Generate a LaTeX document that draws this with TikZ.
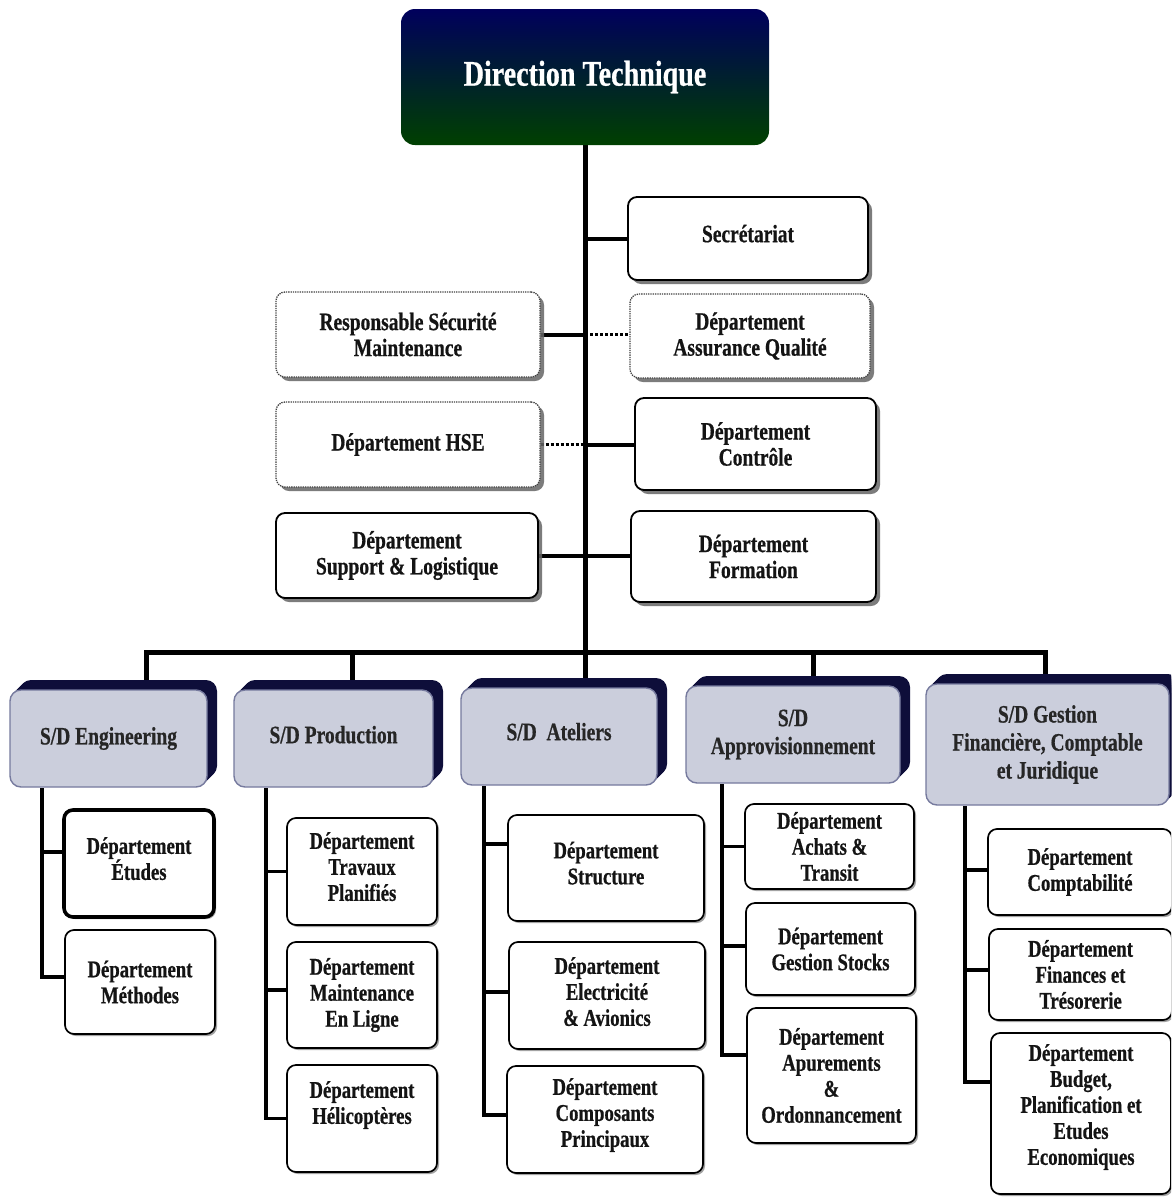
\documentclass[tikz,border=0pt]{standalone}
\usepackage{fontspec}
\newfontfamily\orgfont{Liberation Serif}[FakeStretch=0.78, BoldFeatures={FakeBold=0.6}]
\usetikzlibrary{shadows,backgrounds}

\definecolor{dtnavy}{RGB}{0,0,92}
\definecolor{dtgreen}{RGB}{0,64,0}
\definecolor{sdnavy}{RGB}{14,14,58}
\definecolor{sdface}{RGB}{203,206,220}
\definecolor{sdedge}{RGB}{118,122,158}
\definecolor{ink}{RGB}{20,20,20}

\tikzset{
  boxbase/.style={draw=black, fill=white, rounded corners=9pt, align=center,
    inner sep=2pt, text=ink},
  upfont/.style={font=\orgfont\bfseries\fontsize{25}{26}\selectfont},
  lowfont/.style={font=\orgfont\bfseries\fontsize{24}{26}\selectfont},
  upbox/.style={boxbase, upfont, line width=1.8pt,
    drop shadow={shadow xshift=4pt, shadow yshift=-4pt, fill=black!60, opacity=0.85}},
  dotbox/.style={upbox, draw=black!75, line width=1.3pt, densely dotted},
  lowbox/.style={boxbase, lowfont, line width=1.7pt,
    drop shadow={shadow xshift=2pt, shadow yshift=-2pt, fill=black!45, opacity=0.8}},
  extrude/.style={general shadow={fill=sdnavy, shadow xshift=#1pt, shadow yshift=#1pt}},
  sdbox/.style={extrude/.list={1,...,10}, draw=sdedge, line width=1.4pt, fill=sdface,
    rounded corners=11pt, align=center, text=black!85,
    font=\orgfont\bfseries\fontsize{25}{28}\selectfont},
  lift/.style={text depth=#1},
  trunk/.style={line width=5pt},
  link/.style={line width=4pt},
  dotlink/.style={line width=3pt, dotted},
  subline/.style={line width=3.2pt},
}

\begin{document}
\begin{tikzpicture}[x=1pt, y=-1pt]
\useasboundingbox (0,0) rectangle (1171,1197);
\begin{scope}[on background layer]
  \fill[white] (0,0) rectangle (1171,1197);
\end{scope}
\clip (0,0) rectangle (1171,1197);

% head of the organisation
\node[rounded corners=14pt, top color=dtnavy, bottom color=dtgreen,
  minimum width=368pt, minimum height=136pt, text=white,
  font=\orgfont\bfseries\fontsize{36}{40}\selectfont] (dt) at (585,77) {Direction Technique};

% staff units attached to the trunk
\node[upbox, minimum width=240pt, minimum height=83pt, lift=10pt] (sec) at (748,238.5) {Secrétariat};
\node[dotbox, minimum width=264pt, minimum height=85pt] (resp) at (408,334.5) {Responsable Sécurité\\Maintenance};
\node[dotbox, minimum width=240pt, minimum height=84pt] (aq) at (750,336) {Département\\Assurance Qualité};
\node[dotbox, minimum width=264pt, minimum height=85pt] (hse) at (408,444.5) {Département HSE};
\node[upbox, minimum width=241pt, minimum height=92pt] (ctrl) at (755.5,444) {Département\\Contrôle};
\node[upbox, minimum width=262pt, minimum height=85pt] (sup) at (407,555.5) {Département\\Support \& Logistique};
\node[upbox, minimum width=245pt, minimum height=91pt] (form) at (753.5,556.5) {Département\\Formation};

% sub-directorates
\node[sdbox, minimum width=197pt, minimum height=97pt] (eng) at (108.5,738.5) {S/D Engineering};
\node[sdbox, minimum width=199pt, minimum height=97pt, lift=8pt] (prod) at (333.5,738.5) {S/D Production};
\node[sdbox, minimum width=196pt, minimum height=97pt, lift=10pt] (ate) at (559,736.5) {S/D\ \ Ateliers};
\node[sdbox, minimum width=214pt, minimum height=97pt] (app) at (793,734.5) {S/D\\Approvisionnement};
\node[sdbox, minimum width=243pt, minimum height=121pt] (ges) at (1047.5,744.5) {S/D Gestion\\Financière, Comptable\\et Juridique};

% departments
\node[lowbox, line width=3.6pt, minimum width=150pt, minimum height=107pt, lift=10pt] (etu) at (139,863.5) {Département\\Études};
\node[lowbox, minimum width=150pt, minimum height=104pt] (meth) at (140,982) {Département\\Méthodes};
\node[lowbox, minimum width=150pt, minimum height=107pt, lift=10pt] (trav) at (362,871.5) {Département\\Travaux\\Planifiés};
\node[lowbox, minimum width=150pt, minimum height=106pt] (mlig) at (362,995) {Département\\Maintenance\\En Ligne};
\node[lowbox, minimum width=150pt, minimum height=107pt, lift=32pt] (heli) at (362,1118.5) {Département\\Hélicoptères};
\node[lowbox, minimum width=196pt, minimum height=106pt, lift=10pt] (stru) at (606,868) {Département\\Structure};
\node[lowbox, minimum width=196pt, minimum height=107pt, lift=8pt] (elec) at (607,995.5) {Département\\Electricité\\\& Avionics};
\node[lowbox, minimum width=196pt, minimum height=107pt, lift=14pt] (comp) at (605,1119.5) {Département\\Composants\\Principaux};
\node[lowbox, minimum width=169pt, minimum height=85pt] (acha) at (829.5,846.5) {Département\\Achats \&\\Transit};
\node[lowbox, minimum width=169pt, minimum height=92pt] (stoc) at (830.5,949) {Département\\Gestion Stocks};
\node[lowbox, minimum width=169pt, minimum height=135pt] (apur) at (831.5,1075.5) {Département\\Apurements\\\&\\Ordonnancement};
\node[lowbox, minimum width=184pt, minimum height=86pt] (cpta) at (1080,872) {Département\\Comptabilité};
\node[lowbox, minimum width=183pt, minimum height=91pt] (fina) at (1080.5,974.5) {Département\\Finances et\\Trésorerie};
\node[lowbox, minimum width=180pt, minimum height=161pt, lift=18pt] (budg) at (1081,1113.5) {Département\\Budget,\\Planification et\\Etudes\\Economiques};

% junction points of the bus and the department spines
\coordinate (busL) at (146,652);
\coordinate (busR) at (1045,652);
\coordinate (prodX) at (352,652);
\coordinate (appX) at (813,652);
\coordinate (engX) at (42,0);
\coordinate (prodS) at (266,0);
\coordinate (ateX) at (484,0);
\coordinate (appS) at (722,0);
\coordinate (gesX) at (965,0);

\begin{scope}[on background layer]
  % main trunk and staff links
  \draw[trunk] (dt.south) -- (dt.south |- ate.north);
  \draw[link] (sec.west) -- (sec.west -| dt.south);
  \draw[link] (resp.east) -- (resp.east -| dt.south);
  \draw[dotlink] (resp.east -| dt.south) -- (resp.east -| aq.west);
  \draw[dotlink] (hse.east) -- (hse.east -| dt.south);
  \draw[link] (hse.east -| dt.south) -- (hse.east -| ctrl.west);
  \draw[link] (sup.east) -- (sup.east -| form.west);

  % bus to the sub-directorates
  \draw[trunk] (busL |- eng.north) -- (busL) -- (busR) -- (busR |- ges.north);
  \draw[trunk] (prodX) -- (prodX |- prod.north);
  \draw[trunk] (appX) -- (appX |- app.north);

  % department spines
  \draw[subline] ([yshift=11.5pt]etu.west) -| (eng.south -| engX);
  \draw[subline] ([yshift=5pt]meth.west) -| (eng.south -| engX);
  \draw[subline] (trav.west) -| (prod.south -| prodS);
  \draw[subline] ([yshift=5pt]mlig.west) -| (prod.south -| prodS);
  \draw[subline] (heli.west) -| (prod.south -| prodS);
  \draw[subline] ([yshift=24pt]stru.west) -| (ate.south -| ateX);
  \draw[subline] ([yshift=3.5pt]elec.west) -| (ate.south -| ateX);
  \draw[subline] ([yshift=4.5pt]comp.west) -| (ate.south -| ateX);
  \draw[subline] (acha.west) -| (app.south -| appS);
  \draw[subline] ([yshift=3pt]stoc.west) -| (app.south -| appS);
  \draw[subline] ([yshift=20.5pt]apur.west) -| (app.south -| appS);
  \draw[subline] ([yshift=2pt]cpta.west) -| (ges.south -| gesX);
  \draw[subline] ([yshift=4.5pt]fina.west) -| (ges.south -| gesX);
  \draw[subline] ([yshift=31.5pt]budg.west) -| (ges.south -| gesX);
\end{scope}
\end{tikzpicture}
\end{document}
